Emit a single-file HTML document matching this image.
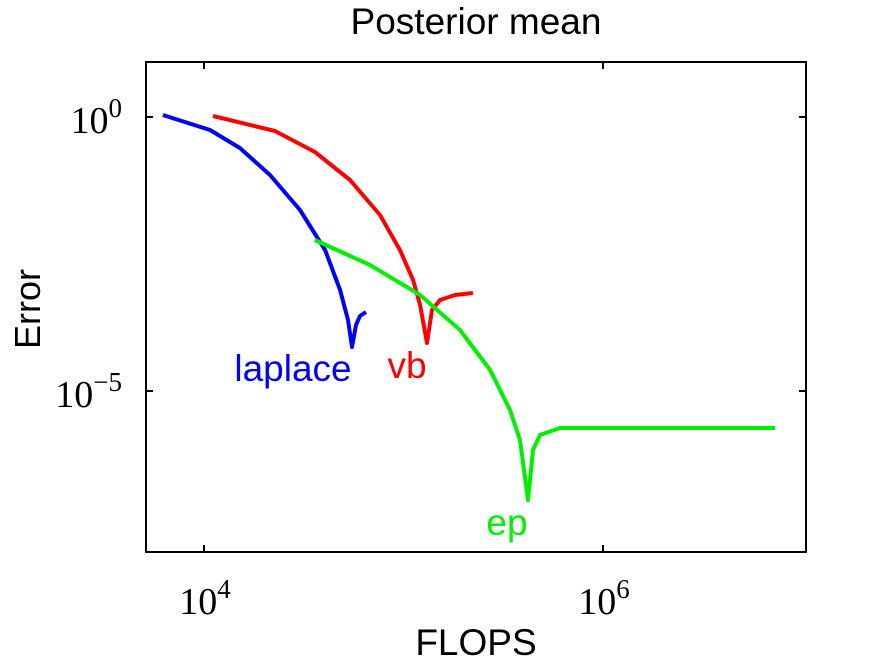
<!DOCTYPE html>
<html><head><meta charset="utf-8"><style>
html,body{margin:0;padding:0;background:#fff;}
svg{display:block;}
</style></head><body>
<svg id="chart" width="887" height="667" viewBox="0 0 887 667" xmlns="http://www.w3.org/2000/svg">
<text x="476" y="34" font-family="Liberation Sans, sans-serif" font-size="37" text-anchor="middle">Posterior mean</text>
<rect x="146" y="62" width="660" height="490" fill="none" stroke="#000" stroke-width="2"/>
<g id="ticks"></g>
<g id="series"></g>
<text x="476" y="655" font-family="Liberation Sans, sans-serif" font-size="37" text-anchor="middle">FLOPS</text>
<text x="40" y="309" font-family="Liberation Sans, sans-serif" font-size="36" text-anchor="middle" transform="rotate(-90 40 309)">Error</text>
<text x="293" y="381" font-family="Liberation Sans, sans-serif" font-size="37" fill="#0000ff" text-anchor="middle">laplace</text>
<text x="407" y="378" font-family="Liberation Sans, sans-serif" font-size="37" fill="#ff0000" text-anchor="middle">vb</text>
<text x="507" y="535" font-family="Liberation Sans, sans-serif" font-size="37" fill="#00ee00" text-anchor="middle">ep</text>
</svg>
<script>
const xTickExps = [4, 6];
const yTickExps = [0, -5];
const laplaceLogFlops = [3.794,4.030,4.180,4.331,4.481,4.607,4.682,4.722,4.742,4.762,4.782,4.812];
const laplaceLogError = [0.036,-0.237,-0.566,-1.058,-1.697,-2.427,-3.157,-3.704,-4.197,-3.796,-3.631,-3.558];
const vbLogFlops = [4.045,4.356,4.556,4.732,4.882,4.982,5.048,5.083,5.118,5.143,5.183,5.258,5.348];
const vbLogError = [0.018,-0.255,-0.639,-1.150,-1.788,-2.427,-2.974,-3.431,-4.124,-3.522,-3.339,-3.248,-3.212];
const epLogFlops = [4.556,4.832,5.083,5.283,5.434,5.534,5.584,5.624,5.649,5.684,5.784,6.862];
const epLogError = [-2.245,-2.701,-3.248,-3.887,-4.617,-5.347,-5.894,-6.989,-6.077,-5.803,-5.675,-5.675];

const NS = "http://www.w3.org/2000/svg";
function xPos(lx){ return 204 + (lx - 4) * 199.5; }
function yPos(ly){ return 117 - ly * 54.8; }

const tg = document.getElementById('ticks');
function line(x1,y1,x2,y2,name){
  const l = document.createElementNS(NS,'line');
  l.setAttribute('x1',x1);l.setAttribute('y1',y1);l.setAttribute('x2',x2);l.setAttribute('y2',y2);
  l.setAttribute('stroke','#000');l.setAttribute('stroke-width','2');
  
  
  tg.appendChild(l);
}
function label(x,y,e,anchor,name){
  const t = document.createElementNS(NS,'text');
  t.setAttribute('x',x);t.setAttribute('y',y);t.setAttribute('text-anchor',anchor);
  t.setAttribute('font-family','Liberation Serif, serif');t.setAttribute('font-size','38');
  
  
  t.textContent = '10';
  const s = document.createElementNS(NS,'tspan');
  s.setAttribute('dy','-16');s.setAttribute('font-size','27');
  s.textContent = String(e).replace('-','\u2212');
  t.appendChild(s);
  tg.appendChild(t);
}
xTickExps.forEach(e=>{
  const x = xPos(e);
  line(x,552,x,545,'x-tick');
  line(x,62,x,69,'x-tick-top');
  label(x+1,614,e,'middle','x-tick-label');
});
yTickExps.forEach(e=>{
  const y = yPos(e);
  line(146,y,153,y,'y-tick');
  line(806,y,799,y,'y-tick-right');
  label(122,y+16,e,'end','y-tick-label');
});

const sg = document.getElementById('series');
function series(xs,ys,color,name){
  const p = document.createElementNS(NS,'polyline');
  p.setAttribute('points', xs.map((v,i)=>xPos(v).toFixed(1)+','+yPos(ys[i]).toFixed(1)).join(' '));
  p.setAttribute('fill','none');p.setAttribute('stroke',color);p.setAttribute('stroke-width','4');
  p.setAttribute('stroke-linejoin','round');
  
  
  sg.appendChild(p);
}
series(laplaceLogFlops, laplaceLogError, '#0000ff', 'laplace-line');
series(vbLogFlops, vbLogError, '#ff0000', 'vb-line');
series(epLogFlops, epLogError, '#00ee00', 'ep-line');
</script>
</body></html>
